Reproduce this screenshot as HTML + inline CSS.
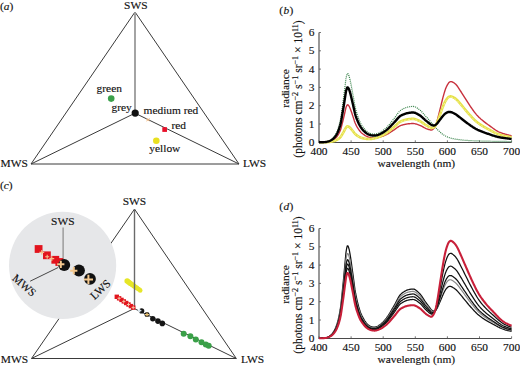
<!DOCTYPE html>
<html><head><meta charset="utf-8"><style>
html,body{margin:0;padding:0;background:#fff;}
body{width:520px;height:368px;overflow:hidden;}
svg{display:block;}
.t{font-family:"Liberation Serif", serif;font-size:11.4px;fill:#111;stroke:#111;stroke-width:0.15px;}
.sup{font-size:8.2px;}
.it{font-style:italic;}
</style></head><body>
<svg width="520" height="368" viewBox="0 0 520 368">

<text x="0" y="9.6" class="t">(<tspan class="it">a</tspan>)</text>
<path d="M135,12 L31,164.0 L239,164.0 Z" fill="none" stroke="#3a3a3a" stroke-width="1"/>
<line x1="135" y1="12" x2="135" y2="113.2" stroke="#9a9a9a" stroke-width="1.8"/>
<line x1="135" y1="113.2" x2="31" y2="164.0" stroke="#3a3a3a" stroke-width="1"/>
<line x1="135" y1="113.2" x2="239" y2="164.0" stroke="#3a3a3a" stroke-width="1"/>
<text x="135.8" y="9.3" text-anchor="middle" class="t">SWS</text>
<text x="0.5" y="167.4" class="t">MWS</text>
<text x="243" y="167.4" class="t">LWS</text>
<circle cx="111.2" cy="98.6" r="3.3" fill="#3aa04a"/>
<text x="96.6" y="92" class="t">green</text>
<text x="111.5" y="111.2" class="t">grey</text>
<circle cx="135.2" cy="113.1" r="3.6" fill="#111"/>
<text x="143.6" y="114.3" class="t">medium red</text>
<path d="M146.5,118.5 L149.5,121 M149.5,118.5 L146.5,121" stroke="#f0b070" stroke-width="1"/>
<rect x="162.3" y="127.2" width="4.7" height="4.7" fill="#e8102a"/>
<text x="171.4" y="129.2" class="t">red</text>
<circle cx="156.3" cy="140.8" r="3.3" fill="#e8e020"/>
<text x="149.3" y="152.3" class="t">yellow</text>
<text x="279.3" y="14.2" class="t" letter-spacing="0.4">(<tspan class="it">b</tspan>)</text>
<line x1="319.0" y1="32.5" x2="319.0" y2="142.5" stroke="#444" stroke-width="1.1"/>
<line x1="318.5" y1="142.5" x2="511.6" y2="142.5" stroke="#4a4a4a" stroke-width="1"/>
<line x1="319.0" y1="142.3" x2="321.0" y2="142.3" stroke="#555" stroke-width="0.8"/>
<text x="314.5" y="145.9" text-anchor="end" class="t">0</text>
<line x1="319.0" y1="124.00000000000001" x2="321.0" y2="124.00000000000001" stroke="#555" stroke-width="0.8"/>
<text x="314.5" y="127.60000000000001" text-anchor="end" class="t">1</text>
<line x1="319.0" y1="105.70000000000002" x2="321.0" y2="105.70000000000002" stroke="#555" stroke-width="0.8"/>
<text x="314.5" y="109.30000000000001" text-anchor="end" class="t">2</text>
<line x1="319.0" y1="87.4" x2="321.0" y2="87.4" stroke="#555" stroke-width="0.8"/>
<text x="314.5" y="91.0" text-anchor="end" class="t">3</text>
<line x1="319.0" y1="69.10000000000001" x2="321.0" y2="69.10000000000001" stroke="#555" stroke-width="0.8"/>
<text x="314.5" y="72.7" text-anchor="end" class="t">4</text>
<line x1="319.0" y1="50.80000000000001" x2="321.0" y2="50.80000000000001" stroke="#555" stroke-width="0.8"/>
<text x="314.5" y="54.40000000000001" text-anchor="end" class="t">5</text>
<line x1="319.0" y1="32.5" x2="321.0" y2="32.5" stroke="#555" stroke-width="0.8"/>
<text x="314.5" y="36.1" text-anchor="end" class="t">6</text>
<line x1="319.0" y1="142.3" x2="319.0" y2="140.3" stroke="#555" stroke-width="0.8"/>
<text x="319.0" y="154.60000000000002" text-anchor="middle" class="t">400</text>
<line x1="351.1" y1="142.3" x2="351.1" y2="140.3" stroke="#555" stroke-width="0.8"/>
<text x="351.1" y="154.60000000000002" text-anchor="middle" class="t">450</text>
<line x1="383.2" y1="142.3" x2="383.2" y2="140.3" stroke="#555" stroke-width="0.8"/>
<text x="383.2" y="154.60000000000002" text-anchor="middle" class="t">500</text>
<line x1="415.3" y1="142.3" x2="415.3" y2="140.3" stroke="#555" stroke-width="0.8"/>
<text x="415.3" y="154.60000000000002" text-anchor="middle" class="t">550</text>
<line x1="447.4" y1="142.3" x2="447.4" y2="140.3" stroke="#555" stroke-width="0.8"/>
<text x="447.4" y="154.60000000000002" text-anchor="middle" class="t">600</text>
<line x1="479.5" y1="142.3" x2="479.5" y2="140.3" stroke="#555" stroke-width="0.8"/>
<text x="479.5" y="154.60000000000002" text-anchor="middle" class="t">650</text>
<line x1="511.6" y1="142.3" x2="511.6" y2="140.3" stroke="#555" stroke-width="0.8"/>
<text x="511.6" y="154.60000000000002" text-anchor="middle" class="t">700</text>
<text x="416.3" y="166.9" text-anchor="middle" class="t">wavelength (nm)</text>
<text transform="translate(288.6,88.4) rotate(-90)" text-anchor="middle" class="t">radiance</text>
<text transform="translate(301.8,89.0) rotate(-90)" text-anchor="middle" class="t" style="font-size:11.5px">(photons cm<tspan class="sup" dy="-3.7">−2</tspan><tspan dy="3.7"> s</tspan><tspan class="sup" dy="-3.7">−1</tspan><tspan dy="3.7"> sr</tspan><tspan class="sup" dy="-3.7">−1</tspan><tspan dy="3.7"> × 10</tspan><tspan class="sup" dy="-3.7">11</tspan><tspan dy="3.7">)</tspan></text>
<path d="M319.00,142.28 L319.64,142.27 L320.28,142.26 L320.93,142.25 L321.57,142.24 L322.21,142.22 L322.85,142.19 L323.49,142.16 L324.14,142.12 L324.78,142.06 L325.42,141.98 L326.06,141.88 L326.70,141.74 L327.35,141.55 L327.99,141.32 L328.63,141.07 L329.27,140.78 L329.91,140.46 L330.56,140.08 L331.20,139.65 L331.84,139.15 L332.48,138.57 L333.12,137.93 L333.77,137.19 L334.41,136.35 L335.05,135.38 L335.69,134.29 L336.33,133.05 L336.98,131.66 L337.62,130.09 L338.26,128.25 L338.90,126.11 L339.54,123.69 L340.19,121.06 L340.83,117.80 L341.47,113.55 L342.11,108.79 L342.75,104.10 L343.40,99.31 L344.04,94.27 L344.68,89.05 L345.32,83.84 L345.96,78.61 L346.61,75.59 L347.25,73.68 L347.89,73.56 L348.53,74.69 L349.17,76.30 L349.82,78.80 L350.46,81.65 L351.10,84.84 L351.74,88.26 L352.38,91.76 L353.03,95.22 L353.67,98.86 L354.31,102.60 L354.95,106.00 L355.59,108.82 L356.24,111.24 L356.88,113.40 L357.52,115.39 L358.16,117.26 L358.80,119.04 L359.45,120.68 L360.09,122.16 L360.73,123.44 L361.37,124.57 L362.01,125.58 L362.66,126.52 L363.30,127.42 L363.94,128.28 L364.58,129.09 L365.22,129.83 L365.87,130.50 L366.51,131.10 L367.15,131.62 L367.79,132.07 L368.43,132.47 L369.08,132.81 L369.72,133.11 L370.36,133.38 L371.00,133.60 L371.64,133.77 L372.29,133.90 L372.93,133.99 L373.57,134.04 L374.21,134.06 L374.85,134.05 L375.50,133.99 L376.14,133.88 L376.78,133.71 L377.42,133.50 L378.06,133.26 L378.71,132.98 L379.35,132.68 L379.99,132.34 L380.63,131.98 L381.27,131.59 L381.92,131.18 L382.56,130.75 L383.20,130.29 L383.84,129.80 L384.48,129.29 L385.13,128.75 L385.77,128.18 L386.41,127.58 L387.05,126.95 L387.69,126.29 L388.34,125.59 L388.98,124.86 L389.62,124.11 L390.26,123.33 L390.90,122.54 L391.55,121.73 L392.19,120.91 L392.83,120.10 L393.47,119.29 L394.11,118.49 L394.76,117.65 L395.40,116.78 L396.04,115.88 L396.68,114.97 L397.32,114.07 L397.97,113.20 L398.61,112.37 L399.25,111.61 L399.89,110.95 L400.53,110.40 L401.18,109.98 L401.82,109.59 L402.46,109.21 L403.10,108.87 L403.74,108.54 L404.39,108.23 L405.03,107.95 L405.67,107.70 L406.31,107.47 L406.95,107.28 L407.60,107.11 L408.24,106.97 L408.88,106.86 L409.52,106.75 L410.16,106.65 L410.81,106.57 L411.45,106.50 L412.09,106.45 L412.73,106.42 L413.37,106.44 L414.02,106.54 L414.66,106.73 L415.30,107.00 L415.94,107.33 L416.58,107.70 L417.23,108.12 L417.87,108.55 L418.51,109.00 L419.15,109.45 L419.79,109.91 L420.44,110.44 L421.08,111.05 L421.72,111.71 L422.36,112.42 L423.00,113.16 L423.65,113.92 L424.29,114.67 L424.93,115.41 L425.57,116.13 L426.21,116.83 L426.86,117.53 L427.50,118.23 L428.14,118.94 L428.78,119.66 L429.42,120.39 L430.07,121.13 L430.71,121.87 L431.35,122.65 L431.99,123.44 L432.63,124.24 L433.28,125.02 L433.92,125.78 L434.56,126.51 L435.20,127.22 L435.84,127.91 L436.49,128.58 L437.13,129.24 L437.77,129.88 L438.41,130.50 L439.05,131.10 L439.70,131.70 L440.34,132.28 L440.98,132.85 L441.62,133.39 L442.26,133.91 L442.91,134.39 L443.55,134.84 L444.19,135.26 L444.83,135.64 L445.47,135.98 L446.12,136.30 L446.76,136.61 L447.40,136.90 L448.04,137.17 L448.68,137.42 L449.33,137.65 L449.97,137.86 L450.61,138.06 L451.25,138.24 L451.89,138.40 L452.54,138.55 L453.18,138.69 L453.82,138.83 L454.46,138.95 L455.10,139.07 L455.75,139.18 L456.39,139.28 L457.03,139.38 L457.67,139.47 L458.31,139.56 L458.96,139.64 L459.60,139.72 L460.24,139.80 L460.88,139.87 L461.52,139.94 L462.17,140.01 L462.81,140.08 L463.45,140.14 L464.09,140.20 L464.73,140.26 L465.38,140.31 L466.02,140.36 L466.66,140.41 L467.30,140.46 L467.94,140.50 L468.59,140.54 L469.23,140.58 L469.87,140.62 L470.51,140.65 L471.15,140.68 L471.80,140.71 L472.44,140.74 L473.08,140.76 L473.72,140.79 L474.36,140.81 L475.01,140.84 L475.65,140.86 L476.29,140.88 L476.93,140.90 L477.57,140.92 L478.22,140.94 L478.86,140.96 L479.50,140.98 L480.14,140.99 L480.78,141.01 L481.43,141.03 L482.07,141.04 L482.71,141.06 L483.35,141.07 L483.99,141.09 L484.64,141.10 L485.28,141.12 L485.92,141.13 L486.56,141.14 L487.20,141.16 L487.85,141.17 L488.49,141.18 L489.13,141.20 L489.77,141.21 L490.41,141.22 L491.06,141.23 L491.70,141.24 L492.34,141.26 L492.98,141.28 L493.62,141.29 L494.27,141.30 L494.91,141.31 L495.55,141.32 L496.19,141.33 L496.83,141.34 L497.48,141.35 L498.12,141.36 L498.76,141.37 L499.40,141.38 L500.04,141.39 L500.69,141.40 L501.33,141.41 L501.97,141.42 L502.61,141.42 L503.25,141.43 L503.90,141.44 L504.54,141.45 L505.18,141.45 L505.82,141.46 L506.46,141.47 L507.11,141.48 L507.75,141.48 L508.39,141.49 L509.03,141.49 L509.67,141.50 L510.32,141.51 L510.96,141.51 L511.60,141.52" fill="none" stroke="#2f7d42" stroke-width="1.2" stroke-linejoin="round" stroke-dasharray="1 1"/>
<path d="M319.00,142.29 L319.64,142.28 L320.28,142.28 L320.93,142.27 L321.57,142.27 L322.21,142.25 L322.85,142.24 L323.49,142.22 L324.14,142.20 L324.78,142.17 L325.42,142.13 L326.06,142.07 L326.70,141.99 L327.35,141.89 L327.99,141.77 L328.63,141.63 L329.27,141.47 L329.91,141.30 L330.56,141.09 L331.20,140.86 L331.84,140.58 L332.48,140.27 L333.12,139.92 L333.77,139.52 L334.41,139.05 L335.05,138.53 L335.69,137.93 L336.33,137.26 L336.98,136.50 L337.62,135.64 L338.26,134.64 L338.90,133.47 L339.54,132.16 L340.19,130.72 L340.83,128.94 L341.47,126.63 L342.11,124.03 L342.75,121.48 L343.40,118.86 L344.04,116.12 L344.68,113.27 L345.32,110.43 L345.96,107.58 L346.61,105.93 L347.25,104.89 L347.89,104.82 L348.53,105.44 L349.17,106.32 L349.82,107.68 L350.46,109.24 L351.10,110.97 L351.74,112.84 L352.38,114.75 L353.03,116.64 L353.67,118.62 L354.31,120.66 L354.95,122.52 L355.59,124.06 L356.24,125.38 L356.88,126.56 L357.52,127.64 L358.16,128.66 L358.80,129.63 L359.45,130.53 L360.09,131.34 L360.73,132.04 L361.37,132.66 L362.01,133.21 L362.66,133.72 L363.30,134.22 L363.94,134.69 L364.58,135.13 L365.22,135.54 L365.87,135.91 L366.51,136.23 L367.15,136.52 L367.79,136.77 L368.43,136.99 L369.08,137.18 L369.72,137.35 L370.36,137.50 L371.00,137.63 L371.64,137.73 L372.29,137.80 L372.93,137.86 L373.57,137.89 L374.21,137.91 L374.85,137.91 L375.50,137.89 L376.14,137.83 L376.78,137.75 L377.42,137.64 L378.06,137.52 L378.71,137.38 L379.35,137.22 L379.99,137.05 L380.63,136.86 L381.27,136.66 L381.92,136.45 L382.56,136.23 L383.20,135.99 L383.84,135.73 L384.48,135.47 L385.13,135.19 L385.77,134.89 L386.41,134.58 L387.05,134.25 L387.69,133.90 L388.34,133.54 L388.98,133.16 L389.62,132.77 L390.26,132.36 L390.90,131.95 L391.55,131.52 L392.19,131.10 L392.83,130.67 L393.47,130.25 L394.11,129.83 L394.76,129.40 L395.40,128.94 L396.04,128.47 L396.68,128.00 L397.32,127.53 L397.97,127.07 L398.61,126.64 L399.25,126.24 L399.89,125.89 L400.53,125.61 L401.18,125.38 L401.82,125.18 L402.46,124.99 L403.10,124.80 L403.74,124.63 L404.39,124.47 L405.03,124.33 L405.67,124.20 L406.31,124.08 L406.95,123.97 L407.60,123.89 L408.24,123.81 L408.88,123.76 L409.52,123.70 L410.16,123.65 L410.81,123.60 L411.45,123.57 L412.09,123.54 L412.73,123.53 L413.37,123.54 L414.02,123.59 L414.66,123.68 L415.30,123.82 L415.94,123.98 L416.58,124.18 L417.23,124.39 L417.87,124.61 L418.51,124.84 L419.15,125.07 L419.79,125.30 L420.44,125.57 L421.08,125.87 L421.72,126.20 L422.36,126.55 L423.00,126.92 L423.65,127.28 L424.29,127.63 L424.93,127.96 L425.57,128.27 L426.21,128.55 L426.86,128.81 L427.50,129.06 L428.14,129.28 L428.78,129.48 L429.42,129.66 L430.07,129.83 L430.71,129.96 L431.35,130.01 L431.99,129.89 L432.63,129.53 L433.28,128.97 L433.92,128.27 L434.56,127.34 L435.20,126.17 L435.84,124.72 L436.49,122.94 L437.13,120.83 L437.77,118.50 L438.41,116.03 L439.05,113.38 L439.70,110.70 L440.34,108.04 L440.98,105.39 L441.62,102.79 L442.26,100.22 L442.91,97.69 L443.55,95.31 L444.19,93.09 L444.83,90.98 L445.47,89.11 L446.12,87.50 L446.76,86.06 L447.40,84.84 L448.04,83.78 L448.68,82.85 L449.33,82.23 L449.97,81.91 L450.61,81.67 L451.25,81.62 L451.89,81.76 L452.54,82.04 L453.18,82.39 L453.82,82.77 L454.46,83.20 L455.10,83.73 L455.75,84.35 L456.39,85.02 L457.03,85.77 L457.67,86.63 L458.31,87.57 L458.96,88.55 L459.60,89.55 L460.24,90.54 L460.88,91.51 L461.52,92.51 L462.17,93.52 L462.81,94.55 L463.45,95.57 L464.09,96.60 L464.73,97.62 L465.38,98.64 L466.02,99.66 L466.66,100.68 L467.30,101.69 L467.94,102.69 L468.59,103.68 L469.23,104.65 L469.87,105.61 L470.51,106.55 L471.15,107.49 L471.80,108.43 L472.44,109.36 L473.08,110.27 L473.72,111.16 L474.36,112.02 L475.01,112.85 L475.65,113.65 L476.29,114.42 L476.93,115.15 L477.57,115.84 L478.22,116.50 L478.86,117.13 L479.50,117.75 L480.14,118.34 L480.78,118.92 L481.43,119.48 L482.07,120.03 L482.71,120.58 L483.35,121.11 L483.99,121.63 L484.64,122.14 L485.28,122.63 L485.92,123.11 L486.56,123.57 L487.20,124.04 L487.85,124.50 L488.49,124.95 L489.13,125.41 L489.77,125.87 L490.41,126.34 L491.06,126.81 L491.70,127.29 L492.34,127.77 L492.98,128.25 L493.62,128.71 L494.27,129.16 L494.91,129.60 L495.55,130.03 L496.19,130.43 L496.83,130.81 L497.48,131.18 L498.12,131.52 L498.76,131.84 L499.40,132.13 L500.04,132.40 L500.69,132.66 L501.33,132.90 L501.97,133.13 L502.61,133.35 L503.25,133.56 L503.90,133.76 L504.54,133.96 L505.18,134.15 L505.82,134.33 L506.46,134.51 L507.11,134.68 L507.75,134.85 L508.39,135.02 L509.03,135.19 L509.67,135.35 L510.32,135.52 L510.96,135.68 L511.60,135.84" fill="none" stroke="#c8323e" stroke-width="1.4" stroke-linejoin="round"/>
<path d="M319.00,142.29 L319.64,142.29 L320.28,142.29 L320.93,142.29 L321.57,142.29 L322.21,142.28 L322.85,142.27 L323.49,142.27 L324.14,142.26 L324.78,142.24 L325.42,142.23 L326.06,142.20 L326.70,142.17 L327.35,142.13 L327.99,142.07 L328.63,142.02 L329.27,141.95 L329.91,141.87 L330.56,141.79 L331.20,141.69 L331.84,141.57 L332.48,141.43 L333.12,141.29 L333.77,141.11 L334.41,140.92 L335.05,140.69 L335.69,140.44 L336.33,140.15 L336.98,139.83 L337.62,139.47 L338.26,139.04 L338.90,138.54 L339.54,137.98 L340.19,137.37 L340.83,136.62 L341.47,135.63 L342.11,134.53 L342.75,133.44 L343.40,132.33 L344.04,131.16 L344.68,129.95 L345.32,128.74 L345.96,127.53 L346.61,126.82 L347.25,126.38 L347.89,126.34 L348.53,126.60 L349.17,126.97 L349.82,127.54 L350.46,128.19 L351.10,128.92 L351.74,129.70 L352.38,130.50 L353.03,131.29 L353.67,132.11 L354.31,132.96 L354.95,133.73 L355.59,134.37 L356.24,134.91 L356.88,135.39 L357.52,135.82 L358.16,136.23 L358.80,136.61 L359.45,136.96 L360.09,137.27 L360.73,137.54 L361.37,137.76 L362.01,137.96 L362.66,138.13 L363.30,138.30 L363.94,138.45 L364.58,138.59 L365.22,138.71 L365.87,138.81 L366.51,138.89 L367.15,138.95 L367.79,138.99 L368.43,139.01 L369.08,139.02 L369.72,139.01 L370.36,138.98 L371.00,138.93 L371.64,138.86 L372.29,138.78 L372.93,138.67 L373.57,138.55 L374.21,138.42 L374.85,138.27 L375.50,138.11 L376.14,137.93 L376.78,137.73 L377.42,137.52 L378.06,137.29 L378.71,137.05 L379.35,136.80 L379.99,136.53 L380.63,136.25 L381.27,135.95 L381.92,135.64 L382.56,135.32 L383.20,134.98 L383.84,134.63 L384.48,134.26 L385.13,133.88 L385.77,133.48 L386.41,133.07 L387.05,132.63 L387.69,132.17 L388.34,131.69 L388.98,131.20 L389.62,130.68 L390.26,130.16 L390.90,129.62 L391.55,129.08 L392.19,128.53 L392.83,127.98 L393.47,127.44 L394.11,126.91 L394.76,126.35 L395.40,125.76 L396.04,125.17 L396.68,124.56 L397.32,123.96 L397.97,123.38 L398.61,122.83 L399.25,122.33 L399.89,121.88 L400.53,121.52 L401.18,121.23 L401.82,120.97 L402.46,120.72 L403.10,120.49 L403.74,120.27 L404.39,120.06 L405.03,119.88 L405.67,119.71 L406.31,119.55 L406.95,119.42 L407.60,119.31 L408.24,119.21 L408.88,119.14 L409.52,119.06 L410.16,119.00 L410.81,118.94 L411.45,118.89 L412.09,118.85 L412.73,118.83 L413.37,118.84 L414.02,118.91 L414.66,119.02 L415.30,119.19 L415.94,119.40 L416.58,119.65 L417.23,119.91 L417.87,120.19 L418.51,120.48 L419.15,120.77 L419.79,121.06 L420.44,121.40 L421.08,121.78 L421.72,122.21 L422.36,122.66 L423.00,123.12 L423.65,123.59 L424.29,124.04 L424.93,124.49 L425.57,124.91 L426.21,125.30 L426.86,125.68 L427.50,126.04 L428.14,126.39 L428.78,126.73 L429.42,127.05 L430.07,127.37 L430.71,127.65 L431.35,127.87 L431.99,127.94 L432.63,127.83 L433.28,127.61 L433.92,127.25 L434.56,126.71 L435.20,125.98 L435.84,125.04 L436.49,123.83 L437.13,122.39 L437.77,120.82 L438.41,119.12 L439.05,117.31 L439.70,115.50 L440.34,113.70 L440.98,111.91 L441.62,110.15 L442.26,108.40 L442.91,106.70 L443.55,105.11 L444.19,103.60 L444.83,102.20 L445.47,100.98 L446.12,99.92 L446.76,98.99 L447.40,98.22 L448.04,97.53 L448.68,96.96 L449.33,96.67 L449.97,96.50 L450.61,96.41 L451.25,96.47 L451.89,96.66 L452.54,96.92 L453.18,97.23 L453.82,97.55 L454.46,97.92 L455.10,98.37 L455.75,98.87 L456.39,99.41 L457.03,100.01 L457.67,100.69 L458.31,101.42 L458.96,102.17 L459.60,102.93 L460.24,103.67 L460.88,104.42 L461.52,105.17 L462.17,105.94 L462.81,106.72 L463.45,107.49 L464.09,108.26 L464.73,109.03 L465.38,109.80 L466.02,110.57 L466.66,111.33 L467.30,112.09 L467.94,112.83 L468.59,113.57 L469.23,114.29 L469.87,115.00 L470.51,115.71 L471.15,116.41 L471.80,117.11 L472.44,117.79 L473.08,118.47 L473.72,119.12 L474.36,119.76 L475.01,120.37 L475.65,120.96 L476.29,121.53 L476.93,122.06 L477.57,122.57 L478.22,123.05 L478.86,123.52 L479.50,123.97 L480.14,124.41 L480.78,124.84 L481.43,125.26 L482.07,125.67 L482.71,126.07 L483.35,126.46 L483.99,126.85 L484.64,127.22 L485.28,127.58 L485.92,127.94 L486.56,128.29 L487.20,128.63 L487.85,128.97 L488.49,129.31 L489.13,129.65 L489.77,130.00 L490.41,130.35 L491.06,130.70 L491.70,131.06 L492.34,131.41 L492.98,131.76 L493.62,132.11 L494.27,132.44 L494.91,132.76 L495.55,133.07 L496.19,133.37 L496.83,133.65 L497.48,133.92 L498.12,134.17 L498.76,134.40 L499.40,134.61 L500.04,134.81 L500.69,135.00 L501.33,135.18 L501.97,135.35 L502.61,135.51 L503.25,135.67 L503.90,135.82 L504.54,135.96 L505.18,136.10 L505.82,136.23 L506.46,136.37 L507.11,136.50 L507.75,136.62 L508.39,136.75 L509.03,136.87 L509.67,136.99 L510.32,137.12 L510.96,137.24 L511.60,137.36" fill="none" stroke="#e6e24a" stroke-width="2.6" stroke-linejoin="round"/>
<path d="M319.00,142.29 L319.64,142.29 L320.28,142.29 L320.93,142.29 L321.57,142.29 L322.21,142.28 L322.85,142.28 L323.49,142.27 L324.14,142.26 L324.78,142.24 L325.42,142.23 L326.06,142.20 L326.70,142.17 L327.35,142.13 L327.99,142.08 L328.63,142.02 L329.27,141.95 L329.91,141.88 L330.56,141.79 L331.20,141.69 L331.84,141.58 L332.48,141.44 L333.12,141.29 L333.77,141.12 L334.41,140.93 L335.05,140.70 L335.69,140.45 L336.33,140.16 L336.98,139.85 L337.62,139.48 L338.26,139.06 L338.90,138.57 L339.54,138.01 L340.19,137.40 L340.83,136.65 L341.47,135.67 L342.11,134.57 L342.75,133.49 L343.40,132.39 L344.04,131.22 L344.68,130.02 L345.32,128.82 L345.96,127.61 L346.61,126.91 L347.25,126.47 L347.89,126.44 L348.53,126.69 L349.17,127.05 L349.82,127.62 L350.46,128.27 L351.10,128.99 L351.74,129.77 L352.38,130.57 L353.03,131.35 L353.67,132.17 L354.31,133.02 L354.95,133.79 L355.59,134.42 L356.24,134.95 L356.88,135.43 L357.52,135.86 L358.16,136.27 L358.80,136.65 L359.45,137.00 L360.09,137.31 L360.73,137.57 L361.37,137.79 L362.01,137.99 L362.66,138.17 L363.30,138.33 L363.94,138.48 L364.58,138.62 L365.22,138.74 L365.87,138.84 L366.51,138.93 L367.15,138.99 L367.79,139.03 L368.43,139.05 L369.08,139.05 L369.72,139.04 L370.36,139.02 L371.00,138.97 L371.64,138.91 L372.29,138.82 L372.93,138.72 L373.57,138.60 L374.21,138.47 L374.85,138.33 L375.50,138.17 L376.14,137.99 L376.78,137.80 L377.42,137.59 L378.06,137.36 L378.71,137.13 L379.35,136.88 L379.99,136.61 L380.63,136.34 L381.27,136.05 L381.92,135.74 L382.56,135.42 L383.20,135.09 L383.84,134.75 L384.48,134.39 L385.13,134.01 L385.77,133.62 L386.41,133.21 L387.05,132.78 L387.69,132.33 L388.34,131.86 L388.98,131.37 L389.62,130.86 L390.26,130.35 L390.90,129.82 L391.55,129.28 L392.19,128.74 L392.83,128.21 L393.47,127.67 L394.11,127.15 L394.76,126.60 L395.40,126.02 L396.04,125.43 L396.68,124.84 L397.32,124.25 L397.97,123.68 L398.61,123.14 L399.25,122.64 L399.89,122.20 L400.53,121.84 L401.18,121.56 L401.82,121.30 L402.46,121.06 L403.10,120.83 L403.74,120.61 L404.39,120.41 L405.03,120.23 L405.67,120.06 L406.31,119.91 L406.95,119.78 L407.60,119.66 L408.24,119.57 L408.88,119.50 L409.52,119.43 L410.16,119.36 L410.81,119.30 L411.45,119.25 L412.09,119.22 L412.73,119.20 L413.37,119.21 L414.02,119.27 L414.66,119.38 L415.30,119.55 L415.94,119.76 L416.58,120.00 L417.23,120.26 L417.87,120.54 L418.51,120.82 L419.15,121.10 L419.79,121.39 L420.44,121.72 L421.08,122.10 L421.72,122.52 L422.36,122.96 L423.00,123.42 L423.65,123.88 L424.29,124.33 L424.93,124.76 L425.57,125.18 L426.21,125.56 L426.86,125.93 L427.50,126.29 L428.14,126.64 L428.78,126.97 L429.42,127.29 L430.07,127.60 L430.71,127.87 L431.35,128.09 L431.99,128.16 L432.63,128.05 L433.28,127.83 L433.92,127.47 L434.56,126.94 L435.20,126.22 L435.84,125.28 L436.49,124.09 L437.13,122.67 L437.77,121.12 L438.41,119.44 L439.05,117.65 L439.70,115.86 L440.34,114.09 L440.98,112.32 L441.62,110.58 L442.26,108.85 L442.91,107.17 L443.55,105.60 L444.19,104.11 L444.83,102.72 L445.47,101.52 L446.12,100.47 L446.76,99.55 L447.40,98.79 L448.04,98.11 L448.68,97.55 L449.33,97.25 L449.97,97.09 L450.61,97.00 L451.25,97.06 L451.89,97.25 L452.54,97.51 L453.18,97.81 L453.82,98.12 L454.46,98.49 L455.10,98.94 L455.75,99.43 L456.39,99.96 L457.03,100.55 L457.67,101.22 L458.31,101.94 L458.96,102.69 L459.60,103.44 L460.24,104.17 L460.88,104.90 L461.52,105.65 L462.17,106.41 L462.81,107.17 L463.45,107.94 L464.09,108.70 L464.73,109.46 L465.38,110.22 L466.02,110.97 L466.66,111.73 L467.30,112.47 L467.94,113.21 L468.59,113.94 L469.23,114.65 L469.87,115.35 L470.51,116.05 L471.15,116.74 L471.80,117.43 L472.44,118.11 L473.08,118.77 L473.72,119.42 L474.36,120.05 L475.01,120.66 L475.65,121.24 L476.29,121.79 L476.93,122.32 L477.57,122.82 L478.22,123.30 L478.86,123.76 L479.50,124.21 L480.14,124.64 L480.78,125.06 L481.43,125.48 L482.07,125.88 L482.71,126.28 L483.35,126.67 L483.99,127.05 L484.64,127.42 L485.28,127.77 L485.92,128.12 L486.56,128.47 L487.20,128.81 L487.85,129.14 L488.49,129.48 L489.13,129.82 L489.77,130.15 L490.41,130.50 L491.06,130.85 L491.70,131.20 L492.34,131.55 L492.98,131.90 L493.62,132.24 L494.27,132.57 L494.91,132.89 L495.55,133.19 L496.19,133.49 L496.83,133.76 L497.48,134.03 L498.12,134.27 L498.76,134.50 L499.40,134.71 L500.04,134.91 L500.69,135.09 L501.33,135.27 L501.97,135.44 L502.61,135.60 L503.25,135.75 L503.90,135.90 L504.54,136.04 L505.18,136.18 L505.82,136.31 L506.46,136.44 L507.11,136.57 L507.75,136.70 L508.39,136.82 L509.03,136.94 L509.67,137.06 L510.32,137.18 L510.96,137.31 L511.60,137.43" fill="none" stroke="#f6f2b0" stroke-width="0.9" stroke-linejoin="round" stroke-dasharray="2 1.8"/>
<path d="M319.00,142.28 L319.64,142.28 L320.28,142.27 L320.93,142.26 L321.57,142.25 L322.21,142.23 L322.85,142.21 L323.49,142.19 L324.14,142.15 L324.78,142.11 L325.42,142.05 L326.06,141.96 L326.70,141.85 L327.35,141.70 L327.99,141.52 L328.63,141.32 L329.27,141.09 L329.91,140.83 L330.56,140.53 L331.20,140.19 L331.84,139.79 L332.48,139.33 L333.12,138.81 L333.77,138.23 L334.41,137.55 L335.05,136.78 L335.69,135.90 L336.33,134.92 L336.98,133.81 L337.62,132.55 L338.26,131.09 L338.90,129.38 L339.54,127.45 L340.19,125.35 L340.83,122.75 L341.47,119.36 L342.11,115.56 L342.75,111.82 L343.40,107.99 L344.04,103.98 L344.68,99.81 L345.32,95.65 L345.96,91.48 L346.61,89.07 L347.25,87.55 L347.89,87.45 L348.53,88.35 L349.17,89.64 L349.82,91.63 L350.46,93.90 L351.10,96.44 L351.74,99.17 L352.38,101.97 L353.03,104.73 L353.67,107.63 L354.31,110.61 L354.95,113.33 L355.59,115.57 L356.24,117.50 L356.88,119.23 L357.52,120.81 L358.16,122.30 L358.80,123.72 L359.45,125.02 L360.09,126.20 L360.73,127.22 L361.37,128.12 L362.01,128.92 L362.66,129.67 L363.30,130.39 L363.94,131.07 L364.58,131.71 L365.22,132.29 L365.87,132.83 L366.51,133.30 L367.15,133.71 L367.79,134.07 L368.43,134.38 L369.08,134.64 L369.72,134.88 L370.36,135.09 L371.00,135.25 L371.64,135.38 L372.29,135.48 L372.93,135.54 L373.57,135.57 L374.21,135.57 L374.85,135.55 L375.50,135.49 L376.14,135.39 L376.78,135.24 L377.42,135.07 L378.06,134.86 L378.71,134.62 L379.35,134.37 L379.99,134.09 L380.63,133.78 L381.27,133.46 L381.92,133.11 L382.56,132.75 L383.20,132.36 L383.84,131.96 L384.48,131.53 L385.13,131.08 L385.77,130.61 L386.41,130.11 L387.05,129.58 L387.69,129.02 L388.34,128.44 L388.98,127.84 L389.62,127.21 L390.26,126.56 L390.90,125.90 L391.55,125.23 L392.19,124.55 L392.83,123.88 L393.47,123.21 L394.11,122.54 L394.76,121.84 L395.40,121.12 L396.04,120.37 L396.68,119.61 L397.32,118.87 L397.97,118.14 L398.61,117.45 L399.25,116.82 L399.89,116.27 L400.53,115.81 L401.18,115.46 L401.82,115.13 L402.46,114.82 L403.10,114.53 L403.74,114.26 L404.39,114.01 L405.03,113.78 L405.67,113.56 L406.31,113.38 L406.95,113.21 L407.60,113.07 L408.24,112.96 L408.88,112.86 L409.52,112.78 L410.16,112.69 L410.81,112.62 L411.45,112.56 L412.09,112.52 L412.73,112.50 L413.37,112.51 L414.02,112.59 L414.66,112.75 L415.30,112.97 L415.94,113.24 L416.58,113.55 L417.23,113.89 L417.87,114.25 L418.51,114.62 L419.15,114.99 L419.79,115.36 L420.44,115.80 L421.08,116.30 L421.72,116.84 L422.36,117.42 L423.00,118.02 L423.65,118.62 L424.29,119.22 L424.93,119.81 L425.57,120.37 L426.21,120.90 L426.86,121.42 L427.50,121.94 L428.14,122.45 L428.78,122.95 L429.42,123.46 L430.07,123.94 L430.71,124.40 L431.35,124.79 L431.99,125.08 L432.63,125.29 L433.28,125.43 L433.92,125.46 L434.56,125.35 L435.20,125.10 L435.84,124.69 L436.49,124.11 L437.13,123.44 L437.77,122.68 L438.41,121.84 L439.05,120.98 L439.70,120.12 L440.34,119.27 L440.98,118.42 L441.62,117.58 L442.26,116.74 L442.91,115.96 L443.55,115.23 L444.19,114.53 L444.83,113.92 L445.47,113.40 L446.12,112.95 L446.76,112.59 L447.40,112.29 L448.04,112.04 L448.68,111.93 L449.33,111.93 L449.97,111.96 L450.61,112.06 L451.25,112.25 L451.89,112.48 L452.54,112.73 L453.18,112.99 L453.82,113.27 L454.46,113.59 L455.10,113.95 L455.75,114.33 L456.39,114.73 L457.03,115.19 L457.67,115.68 L458.31,116.18 L458.96,116.69 L459.60,117.18 L460.24,117.67 L460.88,118.18 L461.52,118.68 L462.17,119.19 L462.81,119.70 L463.45,120.20 L464.09,120.70 L464.73,121.21 L465.38,121.71 L466.02,122.20 L466.66,122.69 L467.30,123.18 L467.94,123.65 L468.59,124.12 L469.23,124.58 L469.87,125.03 L470.51,125.48 L471.15,125.93 L471.80,126.36 L472.44,126.80 L473.08,127.22 L473.72,127.62 L474.36,128.02 L475.01,128.39 L475.65,128.76 L476.29,129.10 L476.93,129.42 L477.57,129.74 L478.22,130.04 L478.86,130.33 L479.50,130.61 L480.14,130.88 L480.78,131.15 L481.43,131.41 L482.07,131.67 L482.71,131.92 L483.35,132.17 L483.99,132.40 L484.64,132.64 L485.28,132.86 L485.92,133.08 L486.56,133.30 L487.20,133.52 L487.85,133.74 L488.49,133.95 L489.13,134.17 L489.77,134.39 L490.41,134.61 L491.06,134.84 L491.70,135.06 L492.34,135.29 L492.98,135.52 L493.62,135.73 L494.27,135.93 L494.91,136.13 L495.55,136.32 L496.19,136.50 L496.83,136.67 L497.48,136.83 L498.12,136.98 L498.76,137.12 L499.40,137.25 L500.04,137.37 L500.69,137.49 L501.33,137.60 L501.97,137.70 L502.61,137.80 L503.25,137.90 L503.90,137.99 L504.54,138.08 L505.18,138.17 L505.82,138.25 L506.46,138.34 L507.11,138.42 L507.75,138.50 L508.39,138.58 L509.03,138.66 L509.67,138.74 L510.32,138.82 L510.96,138.89 L511.60,138.97" fill="none" stroke="#000000" stroke-width="2.4" stroke-linejoin="round"/>
<text x="0" y="189.2" class="t">(<tspan class="it">c</tspan>)</text>
<path d="M134.5,209.1 L31.5,358.5 L236.3,358.5 Z" fill="none" stroke="#3a3a3a" stroke-width="1"/>
<line x1="134.2" y1="308.5" x2="31.5" y2="358.5" stroke="#3a3a3a" stroke-width="1"/>
<line x1="134.2" y1="308.5" x2="236.3" y2="358.5" stroke="#3a3a3a" stroke-width="1"/>
<text x="134.4" y="205.1" text-anchor="middle" class="t">SWS</text>
<text x="0.8" y="363.4" class="t">MWS</text>
<text x="241" y="363.4" class="t">LWS</text>
<circle cx="127.2" cy="281.0" r="2.80" fill="#e6e628"/>
<circle cx="128.8" cy="282.2" r="2.74" fill="#e6e628"/>
<circle cx="130.4" cy="283.4" r="2.67" fill="#e6e628"/>
<circle cx="132.1" cy="284.5" r="2.61" fill="#e6e628"/>
<circle cx="133.7" cy="285.7" r="2.55" fill="#e6e628"/>
<circle cx="135.3" cy="286.9" r="2.49" fill="#e6e628"/>
<circle cx="136.9" cy="288.0" r="2.42" fill="#e6e628"/>
<circle cx="138.6" cy="289.2" r="2.36" fill="#e6e628"/>
<circle cx="140.2" cy="290.4" r="2.30" fill="#e6e628"/>
<line x1="134.5" y1="209.1" x2="134.5" y2="308.5" stroke="#6a6a6a" stroke-width="1.4"/>
<rect x="114.6" y="294.6" width="4.4" height="4.4" fill="#e2161e"/>
<rect x="116.9" y="296.1" width="4.4" height="4.4" fill="#e2161e"/>
<rect x="119.3" y="297.7" width="4.4" height="4.4" fill="#e2161e"/>
<rect x="121.6" y="299.2" width="4.4" height="4.4" fill="#e2161e"/>
<rect x="124.0" y="300.8" width="4.4" height="4.4" fill="#e2161e"/>
<rect x="126.3" y="302.3" width="4.4" height="4.4" fill="#e2161e"/>
<rect x="128.7" y="303.9" width="4.4" height="4.4" fill="#e2161e"/>
<rect x="131.0" y="305.4" width="4.4" height="4.4" fill="#e2161e"/>
<path d="M117.5,298.3 h3.2 M119.1,296.7 v3.2" stroke="#f7c8a8" stroke-width="0.9"/>
<path d="M122.2,301.4 h3.2 M123.8,299.8 v3.2" stroke="#f7c8a8" stroke-width="0.9"/>
<path d="M126.9,304.5 h3.2 M128.5,302.9 v3.2" stroke="#f7c8a8" stroke-width="0.9"/>
<path d="M131.6,307.6 h3.2 M133.2,306.0 v3.2" stroke="#f7c8a8" stroke-width="0.9"/>
<circle cx="141.6" cy="310.9" r="2.7" fill="#151515"/>
<circle cx="147.0" cy="314.6" r="2.5" fill="#151515"/>
<circle cx="152.8" cy="318.7" r="2.7" fill="#151515"/>
<circle cx="157.9" cy="321.1" r="2.8" fill="#151515"/>
<circle cx="162.3" cy="323.4" r="2.8" fill="#151515"/>
<path d="M137.8,310.6 h3.6 M139.6,308.8 v3.6" stroke="#d8e4ec" stroke-width="1.3"/>
<path d="M145,314.6 h4 M147,312.6 v4" stroke="#f0c878" stroke-width="1.2"/>
<circle cx="183.7" cy="333.7" r="3.0" fill="#3aa048"/>
<circle cx="190.4" cy="336.2" r="3.0" fill="#3aa048"/>
<circle cx="195.8" cy="339.4" r="3.0" fill="#3aa048"/>
<circle cx="201.5" cy="342.3" r="3.0" fill="#3aa048"/>
<circle cx="205.8" cy="344.6" r="3.0" fill="#3aa048"/>
<circle cx="208.7" cy="345.8" r="3.0" fill="#3aa048"/>
<circle cx="62.6" cy="265.4" r="53.6" fill="#e6e7e9"/>
<line x1="63.1" y1="227.5" x2="63.1" y2="262" stroke="#8a8a8a" stroke-width="1.2"/>
<line x1="30.2" y1="281.2" x2="58" y2="267.6" stroke="#333" stroke-width="0.9"/>
<text x="62.8" y="224.6" text-anchor="middle" class="t">SWS</text>
<text transform="translate(11.6,279.3) rotate(41)" class="t">MWS</text>
<text transform="translate(94.5,300.2) rotate(-43)" class="t">LWS</text>
<rect x="34.7" y="245.1" width="7.8" height="7.8" fill="#e2141e"/>
<rect x="43.0" y="251.4" width="7.8" height="7.8" fill="#e2141e"/>
<rect x="51.4" y="255.9" width="7.8" height="7.8" fill="#e2141e"/>
<rect x="55.4" y="258.1" width="7.8" height="7.8" fill="#e2141e"/>
<path d="M39.4,252.4 h4.8 M41.8,250.0 v4.8" stroke="#f6c08a" stroke-width="1.1"/>
<path d="M45.2,256.8 h4.0 M47.2,254.8 v4.0" stroke="#f6c08a" stroke-width="1.1"/>
<path d="M49.4,258.6 h4.8 M51.8,256.20000000000005 v4.8" stroke="#f6c08a" stroke-width="1.1"/>
<circle cx="64.2" cy="265.1" r="6.0" fill="#111"/>
<circle cx="78.9" cy="270.4" r="6.0" fill="#111"/>
<circle cx="90.0" cy="278.9" r="5.9" fill="#111"/>
<path d="M57.199999999999996,264.3 h7.2 M60.8,260.7 v7.2" stroke="#f4c88e" stroke-width="2.0"/>
<path d="M70.2,270.7 h7.2 M73.8,267.09999999999997 v7.2" stroke="#f4c88e" stroke-width="2.0"/>
<path d="M83.80000000000001,279.4 h9.2 M88.4,274.79999999999995 v9.2" stroke="#f4c88e" stroke-width="2.0"/>
<text x="279.3" y="210.0" class="t" letter-spacing="0.4">(<tspan class="it">d</tspan>)</text>
<line x1="319.0" y1="228.5" x2="319.0" y2="338.5" stroke="#444" stroke-width="1.1"/>
<line x1="318.5" y1="338.5" x2="511.6" y2="338.5" stroke="#4a4a4a" stroke-width="1"/>
<line x1="319.0" y1="338.3" x2="321.0" y2="338.3" stroke="#555" stroke-width="0.8"/>
<text x="314.5" y="341.90000000000003" text-anchor="end" class="t">0</text>
<line x1="319.0" y1="320.0" x2="321.0" y2="320.0" stroke="#555" stroke-width="0.8"/>
<text x="314.5" y="323.6" text-anchor="end" class="t">1</text>
<line x1="319.0" y1="301.7" x2="321.0" y2="301.7" stroke="#555" stroke-width="0.8"/>
<text x="314.5" y="305.3" text-anchor="end" class="t">2</text>
<line x1="319.0" y1="283.4" x2="321.0" y2="283.4" stroke="#555" stroke-width="0.8"/>
<text x="314.5" y="287.0" text-anchor="end" class="t">3</text>
<line x1="319.0" y1="265.1" x2="321.0" y2="265.1" stroke="#555" stroke-width="0.8"/>
<text x="314.5" y="268.70000000000005" text-anchor="end" class="t">4</text>
<line x1="319.0" y1="246.8" x2="321.0" y2="246.8" stroke="#555" stroke-width="0.8"/>
<text x="314.5" y="250.4" text-anchor="end" class="t">5</text>
<line x1="319.0" y1="228.5" x2="321.0" y2="228.5" stroke="#555" stroke-width="0.8"/>
<text x="314.5" y="232.1" text-anchor="end" class="t">6</text>
<line x1="319.0" y1="338.3" x2="319.0" y2="336.3" stroke="#555" stroke-width="0.8"/>
<text x="319.0" y="350.6" text-anchor="middle" class="t">400</text>
<line x1="351.1" y1="338.3" x2="351.1" y2="336.3" stroke="#555" stroke-width="0.8"/>
<text x="351.1" y="350.6" text-anchor="middle" class="t">450</text>
<line x1="383.2" y1="338.3" x2="383.2" y2="336.3" stroke="#555" stroke-width="0.8"/>
<text x="383.2" y="350.6" text-anchor="middle" class="t">500</text>
<line x1="415.3" y1="338.3" x2="415.3" y2="336.3" stroke="#555" stroke-width="0.8"/>
<text x="415.3" y="350.6" text-anchor="middle" class="t">550</text>
<line x1="447.4" y1="338.3" x2="447.4" y2="336.3" stroke="#555" stroke-width="0.8"/>
<text x="447.4" y="350.6" text-anchor="middle" class="t">600</text>
<line x1="479.5" y1="338.3" x2="479.5" y2="336.3" stroke="#555" stroke-width="0.8"/>
<text x="479.5" y="350.6" text-anchor="middle" class="t">650</text>
<line x1="511.6" y1="338.3" x2="511.6" y2="336.3" stroke="#555" stroke-width="0.8"/>
<text x="511.6" y="350.6" text-anchor="middle" class="t">700</text>
<text x="416.3" y="362.90000000000003" text-anchor="middle" class="t">wavelength (nm)</text>
<text transform="translate(288.6,284.4) rotate(-90)" text-anchor="middle" class="t">radiance</text>
<text transform="translate(301.8,285.0) rotate(-90)" text-anchor="middle" class="t" style="font-size:11.5px">(photons cm<tspan class="sup" dy="-3.7">−2</tspan><tspan dy="3.7"> s</tspan><tspan class="sup" dy="-3.7">−1</tspan><tspan dy="3.7"> sr</tspan><tspan class="sup" dy="-3.7">−1</tspan><tspan dy="3.7"> × 10</tspan><tspan class="sup" dy="-3.7">11</tspan><tspan dy="3.7">)</tspan></text>
<path d="M319.00,338.27 L319.64,338.26 L320.28,338.25 L320.93,338.23 L321.57,338.21 L322.21,338.19 L322.85,338.15 L323.49,338.11 L324.14,338.05 L324.78,337.98 L325.42,337.88 L326.06,337.73 L326.70,337.54 L327.35,337.29 L327.99,336.98 L328.63,336.64 L329.27,336.26 L329.91,335.82 L330.56,335.32 L331.20,334.74 L331.84,334.06 L332.48,333.28 L333.12,332.42 L333.77,331.43 L334.41,330.29 L335.05,328.99 L335.69,327.51 L336.33,325.85 L336.98,323.98 L337.62,321.86 L338.26,319.39 L338.90,316.52 L339.54,313.26 L340.19,309.72 L340.83,305.33 L341.47,299.62 L342.11,293.20 L342.75,286.90 L343.40,280.44 L344.04,273.66 L344.68,266.63 L345.32,259.62 L345.96,252.59 L346.61,248.52 L347.25,245.96 L347.89,245.79 L348.53,247.31 L349.17,249.48 L349.82,252.84 L350.46,256.67 L351.10,260.96 L351.74,265.57 L352.38,270.28 L353.03,274.94 L353.67,279.83 L354.31,284.87 L354.95,289.44 L355.59,293.23 L356.24,296.49 L356.88,299.39 L357.52,302.07 L358.16,304.59 L358.80,306.98 L359.45,309.18 L360.09,311.17 L360.73,312.90 L361.37,314.41 L362.01,315.77 L362.66,317.03 L363.30,318.24 L363.94,319.40 L364.58,320.48 L365.22,321.47 L365.87,322.37 L366.51,323.17 L367.15,323.87 L367.79,324.47 L368.43,325.00 L369.08,325.46 L369.72,325.86 L370.36,326.21 L371.00,326.50 L371.64,326.73 L372.29,326.89 L372.93,327.00 L373.57,327.06 L374.21,327.08 L374.85,327.06 L375.50,326.96 L376.14,326.80 L376.78,326.56 L377.42,326.27 L378.06,325.93 L378.71,325.55 L379.35,325.13 L379.99,324.66 L380.63,324.17 L381.27,323.63 L381.92,323.06 L382.56,322.46 L383.20,321.83 L383.84,321.16 L384.48,320.45 L385.13,319.71 L385.77,318.93 L386.41,318.10 L387.05,317.23 L387.69,316.32 L388.34,315.35 L388.98,314.35 L389.62,313.32 L390.26,312.25 L390.90,311.16 L391.55,310.05 L392.19,308.93 L392.83,307.81 L393.47,306.70 L394.11,305.60 L394.76,304.44 L395.40,303.24 L396.04,302.01 L396.68,300.76 L397.32,299.52 L397.97,298.32 L398.61,297.18 L399.25,296.14 L399.89,295.22 L400.53,294.47 L401.18,293.89 L401.82,293.35 L402.46,292.84 L403.10,292.36 L403.74,291.91 L404.39,291.49 L405.03,291.10 L405.67,290.76 L406.31,290.44 L406.95,290.17 L407.60,289.94 L408.24,289.75 L408.88,289.60 L409.52,289.45 L410.16,289.32 L410.81,289.20 L411.45,289.10 L412.09,289.03 L412.73,289.00 L413.37,289.01 L414.02,289.16 L414.66,289.41 L415.30,289.78 L415.94,290.22 L416.58,290.74 L417.23,291.30 L417.87,291.90 L418.51,292.51 L419.15,293.12 L419.79,293.74 L420.44,294.46 L421.08,295.29 L421.72,296.19 L422.36,297.15 L423.00,298.14 L423.65,299.15 L424.29,300.14 L424.93,301.12 L425.57,302.05 L426.21,302.94 L426.86,303.82 L427.50,304.68 L428.14,305.53 L428.78,306.38 L429.42,307.22 L430.07,308.05 L430.71,308.85 L431.35,309.61 L431.99,310.22 L432.63,310.65 L433.28,310.93 L433.92,311.06 L434.56,310.98 L435.20,310.68 L435.84,310.14 L436.49,309.31 L437.13,308.21 L437.77,306.96 L438.41,305.57 L439.05,304.04 L439.70,302.51 L440.34,300.99 L440.98,299.46 L441.62,297.95 L442.26,296.42 L442.91,294.93 L443.55,293.54 L444.19,292.21 L444.83,290.96 L445.47,289.90 L446.12,288.98 L446.76,288.19 L447.40,287.57 L448.04,287.01 L448.68,286.58 L449.33,286.41 L449.97,286.38 L450.61,286.42 L451.25,286.61 L451.89,286.90 L452.54,287.26 L453.18,287.66 L453.82,288.06 L454.46,288.48 L455.10,288.96 L455.75,289.50 L456.39,290.07 L457.03,290.67 L457.67,291.33 L458.31,292.05 L458.96,292.82 L459.60,293.60 L460.24,294.39 L460.88,295.17 L461.52,295.94 L462.17,296.72 L462.81,297.50 L463.45,298.30 L464.09,299.09 L464.73,299.88 L465.38,300.66 L466.02,301.44 L466.66,302.23 L467.30,303.00 L467.94,303.77 L468.59,304.54 L469.23,305.29 L469.87,306.03 L470.51,306.76 L471.15,307.48 L471.80,308.18 L472.44,308.89 L473.08,309.59 L473.72,310.28 L474.36,310.97 L475.01,311.64 L475.65,312.30 L476.29,312.94 L476.93,313.57 L477.57,314.17 L478.22,314.75 L478.86,315.30 L479.50,315.83 L480.14,316.34 L480.78,316.82 L481.43,317.29 L482.07,317.75 L482.71,318.19 L483.35,318.62 L483.99,319.04 L484.64,319.45 L485.28,319.85 L485.92,320.25 L486.56,320.65 L487.20,321.03 L487.85,321.40 L488.49,321.76 L489.13,322.12 L489.77,322.47 L490.41,322.81 L491.06,323.15 L491.70,323.49 L492.34,323.83 L492.98,324.19 L493.62,324.53 L494.27,324.87 L494.91,325.22 L495.55,325.58 L496.19,325.93 L496.83,326.28 L497.48,326.62 L498.12,326.96 L498.76,327.28 L499.40,327.60 L500.04,327.91 L500.69,328.20 L501.33,328.48 L501.97,328.74 L502.61,328.99 L503.25,329.23 L503.90,329.45 L504.54,329.65 L505.18,329.85 L505.82,330.03 L506.46,330.21 L507.11,330.38 L507.75,330.54 L508.39,330.69 L509.03,330.84 L509.67,330.99 L510.32,331.13 L510.96,331.26 L511.60,331.39" fill="none" stroke="#111" stroke-width="1.25" stroke-linejoin="round"/>
<path d="M319.00,338.27 L319.64,338.26 L320.28,338.25 L320.93,338.24 L321.57,338.22 L322.21,338.20 L322.85,338.17 L323.49,338.13 L324.14,338.07 L324.78,338.00 L325.42,337.91 L326.06,337.78 L326.70,337.60 L327.35,337.37 L327.99,337.09 L328.63,336.78 L329.27,336.43 L329.91,336.03 L330.56,335.57 L331.20,335.03 L331.84,334.41 L332.48,333.70 L333.12,332.91 L333.77,332.00 L334.41,330.95 L335.05,329.76 L335.69,328.41 L336.33,326.88 L336.98,325.17 L337.62,323.23 L338.26,320.96 L338.90,318.32 L339.54,315.34 L340.19,312.09 L340.83,308.07 L341.47,302.82 L342.11,296.94 L342.75,291.16 L343.40,285.24 L344.04,279.03 L344.68,272.58 L345.32,266.15 L345.96,259.70 L346.61,255.96 L347.25,253.62 L347.89,253.46 L348.53,254.86 L349.17,256.85 L349.82,259.93 L350.46,263.44 L351.10,267.37 L351.74,271.59 L352.38,275.91 L353.03,280.18 L353.67,284.67 L354.31,289.28 L354.95,293.48 L355.59,296.95 L356.24,299.93 L356.88,302.60 L357.52,305.05 L358.16,307.35 L358.80,309.54 L359.45,311.56 L360.09,313.38 L360.73,314.96 L361.37,316.34 L362.01,317.59 L362.66,318.74 L363.30,319.84 L363.94,320.90 L364.58,321.88 L365.22,322.79 L365.87,323.61 L366.51,324.33 L367.15,324.97 L367.79,325.52 L368.43,325.99 L369.08,326.40 L369.72,326.76 L370.36,327.07 L371.00,327.33 L371.64,327.52 L372.29,327.66 L372.93,327.75 L373.57,327.79 L374.21,327.79 L374.85,327.75 L375.50,327.65 L376.14,327.48 L376.78,327.25 L377.42,326.96 L378.06,326.63 L378.71,326.26 L379.35,325.85 L379.99,325.41 L380.63,324.93 L381.27,324.42 L381.92,323.87 L382.56,323.30 L383.20,322.69 L383.84,322.05 L384.48,321.37 L385.13,320.66 L385.77,319.91 L386.41,319.13 L387.05,318.30 L387.69,317.42 L388.34,316.51 L388.98,315.55 L389.62,314.56 L390.26,313.55 L390.90,312.50 L391.55,311.45 L392.19,310.38 L392.83,309.31 L393.47,308.26 L394.11,307.21 L394.76,306.11 L395.40,304.96 L396.04,303.79 L396.68,302.60 L397.32,301.42 L397.97,300.28 L398.61,299.20 L399.25,298.20 L399.89,297.33 L400.53,296.61 L401.18,296.06 L401.82,295.54 L402.46,295.06 L403.10,294.60 L403.74,294.17 L404.39,293.77 L405.03,293.41 L405.67,293.07 L406.31,292.78 L406.95,292.52 L407.60,292.30 L408.24,292.12 L408.88,291.97 L409.52,291.83 L410.16,291.70 L410.81,291.59 L411.45,291.49 L412.09,291.43 L412.73,291.40 L413.37,291.41 L414.02,291.55 L414.66,291.79 L415.30,292.13 L415.94,292.56 L416.58,293.05 L417.23,293.59 L417.87,294.15 L418.51,294.73 L419.15,295.31 L419.79,295.90 L420.44,296.58 L421.08,297.37 L421.72,298.22 L422.36,299.13 L423.00,300.07 L423.65,301.02 L424.29,301.96 L424.93,302.88 L425.57,303.76 L426.21,304.59 L426.86,305.41 L427.50,306.21 L428.14,307.00 L428.78,307.77 L429.42,308.54 L430.07,309.29 L430.71,310.01 L431.35,310.67 L431.99,311.16 L432.63,311.43 L433.28,311.54 L433.92,311.49 L434.56,311.19 L435.20,310.65 L435.84,309.84 L436.49,308.69 L437.13,307.26 L437.77,305.64 L438.41,303.87 L439.05,301.95 L439.70,300.02 L440.34,298.11 L440.98,296.19 L441.62,294.30 L442.26,292.41 L442.91,290.56 L443.55,288.83 L444.19,287.19 L444.83,285.65 L445.47,284.33 L446.12,283.19 L446.76,282.20 L447.40,281.40 L448.04,280.69 L448.68,280.12 L449.33,279.87 L449.97,279.77 L450.61,279.76 L451.25,279.92 L451.89,280.22 L452.54,280.59 L453.18,281.01 L453.82,281.44 L454.46,281.89 L455.10,282.41 L455.75,283.00 L456.39,283.63 L457.03,284.29 L457.67,285.02 L458.31,285.83 L458.96,286.69 L459.60,287.57 L460.24,288.46 L460.88,289.34 L461.52,290.20 L462.17,291.07 L462.81,291.96 L463.45,292.86 L464.09,293.75 L464.73,294.65 L465.38,295.53 L466.02,296.42 L466.66,297.30 L467.30,298.18 L467.94,299.06 L468.59,299.93 L469.23,300.78 L469.87,301.63 L470.51,302.46 L471.15,303.28 L471.80,304.08 L472.44,304.88 L473.08,305.68 L473.72,306.47 L474.36,307.25 L475.01,308.02 L475.65,308.78 L476.29,309.51 L476.93,310.22 L477.57,310.91 L478.22,311.57 L478.86,312.20 L479.50,312.80 L480.14,313.38 L480.78,313.94 L481.43,314.47 L482.07,314.99 L482.71,315.50 L483.35,315.99 L483.99,316.47 L484.64,316.94 L485.28,317.40 L485.92,317.85 L486.56,318.30 L487.20,318.74 L487.85,319.16 L488.49,319.58 L489.13,319.98 L489.77,320.38 L490.41,320.77 L491.06,321.16 L491.70,321.55 L492.34,321.94 L492.98,322.34 L493.62,322.73 L494.27,323.12 L494.91,323.52 L495.55,323.93 L496.19,324.33 L496.83,324.73 L497.48,325.12 L498.12,325.50 L498.76,325.88 L499.40,326.24 L500.04,326.59 L500.69,326.92 L501.33,327.24 L501.97,327.54 L502.61,327.83 L503.25,328.10 L503.90,328.35 L504.54,328.58 L505.18,328.81 L505.82,329.02 L506.46,329.22 L507.11,329.41 L507.75,329.59 L508.39,329.77 L509.03,329.94 L509.67,330.10 L510.32,330.26 L510.96,330.42 L511.60,330.57" fill="none" stroke="#8a8a8a" stroke-width="1.2" stroke-linejoin="round"/>
<path d="M319.00,338.27 L319.64,338.27 L320.28,338.26 L320.93,338.24 L321.57,338.23 L322.21,338.20 L322.85,338.18 L323.49,338.14 L324.14,338.09 L324.78,338.02 L325.42,337.94 L326.06,337.82 L326.70,337.65 L327.35,337.44 L327.99,337.18 L328.63,336.89 L329.27,336.57 L329.91,336.19 L330.56,335.77 L331.20,335.27 L331.84,334.70 L332.48,334.04 L333.12,333.30 L333.77,332.46 L334.41,331.49 L335.05,330.38 L335.69,329.13 L336.33,327.72 L336.98,326.13 L337.62,324.33 L338.26,322.23 L338.90,319.79 L339.54,317.02 L340.19,314.01 L340.83,310.28 L341.47,305.42 L342.11,299.97 L342.75,294.61 L343.40,289.13 L344.04,283.37 L344.68,277.39 L345.32,271.43 L345.96,265.46 L346.61,262.00 L347.25,259.82 L347.89,259.67 L348.53,260.97 L349.17,262.81 L349.82,265.67 L350.46,268.92 L351.10,272.56 L351.74,276.47 L352.38,280.48 L353.03,284.44 L353.67,288.59 L354.31,292.87 L354.95,296.76 L355.59,299.97 L356.24,302.73 L356.88,305.20 L357.52,307.47 L358.16,309.61 L358.80,311.63 L359.45,313.50 L360.09,315.18 L360.73,316.65 L361.37,317.93 L362.01,319.08 L362.66,320.14 L363.30,321.16 L363.94,322.14 L364.58,323.05 L365.22,323.88 L365.87,324.64 L366.51,325.31 L367.15,325.90 L367.79,326.40 L368.43,326.83 L369.08,327.21 L369.72,327.54 L370.36,327.83 L371.00,328.06 L371.64,328.23 L372.29,328.35 L372.93,328.42 L373.57,328.45 L374.21,328.45 L374.85,328.41 L375.50,328.30 L376.14,328.14 L376.78,327.91 L377.42,327.64 L378.06,327.32 L378.71,326.97 L379.35,326.58 L379.99,326.16 L380.63,325.70 L381.27,325.22 L381.92,324.70 L382.56,324.15 L383.20,323.58 L383.84,322.97 L384.48,322.33 L385.13,321.66 L385.77,320.95 L386.41,320.20 L387.05,319.42 L387.69,318.59 L388.34,317.72 L388.98,316.82 L389.62,315.88 L390.26,314.92 L390.90,313.94 L391.55,312.94 L392.19,311.93 L392.83,310.92 L393.47,309.92 L394.11,308.93 L394.76,307.89 L395.40,306.81 L396.04,305.69 L396.68,304.57 L397.32,303.46 L397.97,302.38 L398.61,301.35 L399.25,300.41 L399.89,299.59 L400.53,298.91 L401.18,298.38 L401.82,297.90 L402.46,297.44 L403.10,297.01 L403.74,296.60 L404.39,296.22 L405.03,295.88 L405.67,295.56 L406.31,295.28 L406.95,295.04 L407.60,294.83 L408.24,294.66 L408.88,294.52 L409.52,294.39 L410.16,294.27 L410.81,294.16 L411.45,294.07 L412.09,294.01 L412.73,293.98 L413.37,293.99 L414.02,294.12 L414.66,294.34 L415.30,294.67 L415.94,295.07 L416.58,295.54 L417.23,296.04 L417.87,296.58 L418.51,297.12 L419.15,297.67 L419.79,298.22 L420.44,298.87 L421.08,299.61 L421.72,300.41 L422.36,301.27 L423.00,302.15 L423.65,303.05 L424.29,303.93 L424.93,304.79 L425.57,305.61 L426.21,306.39 L426.86,307.14 L427.50,307.88 L428.14,308.61 L428.78,309.32 L429.42,310.02 L430.07,310.70 L430.71,311.35 L431.35,311.92 L431.99,312.30 L432.63,312.45 L433.28,312.43 L433.92,312.22 L434.56,311.77 L435.20,311.05 L435.84,310.04 L436.49,308.67 L437.13,306.99 L437.77,305.12 L438.41,303.08 L439.05,300.88 L439.70,298.68 L440.34,296.49 L440.98,294.31 L441.62,292.15 L442.26,290.00 L442.91,287.90 L443.55,285.95 L444.19,284.09 L444.83,282.35 L445.47,280.85 L446.12,279.54 L446.76,278.41 L447.40,277.49 L448.04,276.67 L448.68,276.00 L449.33,275.69 L449.97,275.55 L450.61,275.50 L451.25,275.64 L451.89,275.93 L452.54,276.31 L453.18,276.74 L453.82,277.18 L454.46,277.64 L455.10,278.19 L455.75,278.81 L456.39,279.47 L457.03,280.17 L457.67,280.95 L458.31,281.82 L458.96,282.73 L459.60,283.67 L460.24,284.63 L460.88,285.56 L461.52,286.49 L462.17,287.43 L462.81,288.38 L463.45,289.34 L464.09,290.30 L464.73,291.26 L465.38,292.21 L466.02,293.17 L466.66,294.12 L467.30,295.07 L467.94,296.01 L468.59,296.94 L469.23,297.87 L469.87,298.78 L470.51,299.67 L471.15,300.56 L471.80,301.42 L472.44,302.29 L473.08,303.15 L473.72,304.01 L474.36,304.85 L475.01,305.68 L475.65,306.50 L476.29,307.29 L476.93,308.06 L477.57,308.80 L478.22,309.51 L478.86,310.20 L479.50,310.85 L480.14,311.47 L480.78,312.08 L481.43,312.65 L482.07,313.21 L482.71,313.76 L483.35,314.29 L483.99,314.81 L484.64,315.31 L485.28,315.81 L485.92,316.31 L486.56,316.79 L487.20,317.26 L487.85,317.72 L488.49,318.17 L489.13,318.61 L489.77,319.04 L490.41,319.46 L491.06,319.88 L491.70,320.30 L492.34,320.72 L492.98,321.15 L493.62,321.57 L494.27,322.00 L494.91,322.43 L495.55,322.87 L496.19,323.30 L496.83,323.73 L497.48,324.16 L498.12,324.57 L498.76,324.98 L499.40,325.37 L500.04,325.74 L500.69,326.11 L501.33,326.45 L501.97,326.78 L502.61,327.09 L503.25,327.38 L503.90,327.65 L504.54,327.90 L505.18,328.14 L505.82,328.37 L506.46,328.59 L507.11,328.79 L507.75,328.99 L508.39,329.18 L509.03,329.37 L509.67,329.54 L510.32,329.71 L510.96,329.88 L511.60,330.05" fill="none" stroke="#111" stroke-width="1.25" stroke-linejoin="round"/>
<path d="M319.00,338.27 L319.64,338.27 L320.28,338.26 L320.93,338.25 L321.57,338.23 L322.21,338.21 L322.85,338.18 L323.49,338.15 L324.14,338.10 L324.78,338.04 L325.42,337.96 L326.06,337.85 L326.70,337.69 L327.35,337.49 L327.99,337.24 L328.63,336.97 L329.27,336.66 L329.91,336.31 L330.56,335.91 L331.20,335.44 L331.84,334.90 L332.48,334.28 L333.12,333.58 L333.77,332.79 L334.41,331.87 L335.05,330.83 L335.69,329.64 L336.33,328.31 L336.98,326.81 L337.62,325.11 L338.26,323.13 L338.90,320.82 L339.54,318.21 L340.19,315.37 L340.83,311.84 L341.47,307.26 L342.11,302.11 L342.75,297.05 L343.40,291.87 L344.04,286.43 L344.68,280.79 L345.32,275.16 L345.96,269.52 L346.61,266.26 L347.25,264.20 L347.89,264.06 L348.53,265.29 L349.17,267.03 L349.82,269.72 L350.46,272.79 L351.10,276.23 L351.74,279.93 L352.38,283.71 L353.03,287.44 L353.67,291.37 L354.31,295.41 L354.95,299.08 L355.59,302.11 L356.24,304.72 L356.88,307.05 L357.52,309.19 L358.16,311.21 L358.80,313.13 L359.45,314.89 L360.09,316.48 L360.73,317.87 L361.37,319.07 L362.01,320.16 L362.66,321.17 L363.30,322.13 L363.94,323.05 L364.58,323.91 L365.22,324.70 L365.87,325.42 L366.51,326.05 L367.15,326.60 L367.79,327.08 L368.43,327.49 L369.08,327.85 L369.72,328.16 L370.36,328.43 L371.00,328.65 L371.64,328.82 L372.29,328.94 L372.93,329.01 L373.57,329.04 L374.21,329.04 L374.85,329.00 L375.50,328.90 L376.14,328.75 L376.78,328.54 L377.42,328.29 L378.06,327.99 L378.71,327.66 L379.35,327.30 L379.99,326.90 L380.63,326.47 L381.27,326.02 L381.92,325.53 L382.56,325.02 L383.20,324.48 L383.84,323.91 L384.48,323.31 L385.13,322.68 L385.77,322.02 L386.41,321.32 L387.05,320.59 L387.69,319.81 L388.34,319.00 L388.98,318.15 L389.62,317.27 L390.26,316.37 L390.90,315.45 L391.55,314.51 L392.19,313.56 L392.83,312.62 L393.47,311.68 L394.11,310.75 L394.76,309.78 L395.40,308.76 L396.04,307.72 L396.68,306.67 L397.32,305.62 L397.97,304.61 L398.61,303.65 L399.25,302.77 L399.89,302.00 L400.53,301.36 L401.18,300.87 L401.82,300.41 L402.46,299.98 L403.10,299.58 L403.74,299.19 L404.39,298.84 L405.03,298.52 L405.67,298.22 L406.31,297.96 L406.95,297.73 L407.60,297.53 L408.24,297.37 L408.88,297.24 L409.52,297.12 L410.16,297.00 L410.81,296.90 L411.45,296.82 L412.09,296.76 L412.73,296.73 L413.37,296.75 L414.02,296.87 L414.66,297.08 L415.30,297.38 L415.94,297.76 L416.58,298.19 L417.23,298.66 L417.87,299.16 L418.51,299.68 L419.15,300.19 L419.79,300.70 L420.44,301.31 L421.08,301.99 L421.72,302.75 L422.36,303.55 L423.00,304.37 L423.65,305.20 L424.29,306.02 L424.93,306.81 L425.57,307.56 L426.21,308.27 L426.86,308.95 L427.50,309.62 L428.14,310.26 L428.78,310.88 L429.42,311.50 L430.07,312.09 L430.71,312.63 L431.35,313.07 L431.99,313.29 L432.63,313.24 L433.28,312.99 L433.92,312.54 L434.56,311.80 L435.20,310.76 L435.84,309.38 L436.49,307.59 L437.13,305.44 L437.77,303.08 L438.41,300.51 L439.05,297.77 L439.70,295.03 L440.34,292.31 L440.98,289.59 L441.62,286.92 L442.26,284.27 L442.91,281.67 L443.55,279.26 L444.19,276.97 L444.83,274.83 L445.47,272.98 L446.12,271.36 L446.76,269.95 L447.40,268.80 L448.04,267.76 L448.68,266.91 L449.33,266.48 L449.97,266.25 L450.61,266.14 L451.25,266.26 L451.89,266.55 L452.54,266.95 L453.18,267.40 L453.82,267.88 L454.46,268.39 L455.10,269.00 L455.75,269.69 L456.39,270.43 L457.03,271.22 L457.67,272.11 L458.31,273.09 L458.96,274.14 L459.60,275.22 L460.24,276.31 L460.88,277.38 L461.52,278.44 L462.17,279.52 L462.81,280.61 L463.45,281.71 L464.09,282.82 L464.73,283.93 L465.38,285.02 L466.02,286.12 L466.66,287.22 L467.30,288.31 L467.94,289.40 L468.59,290.48 L469.23,291.55 L469.87,292.60 L470.51,293.64 L471.15,294.66 L471.80,295.67 L472.44,296.67 L473.08,297.67 L473.72,298.67 L474.36,299.65 L475.01,300.61 L475.65,301.56 L476.29,302.47 L476.93,303.37 L477.57,304.23 L478.22,305.06 L478.86,305.85 L479.50,306.61 L480.14,307.33 L480.78,308.03 L481.43,308.70 L482.07,309.35 L482.71,309.98 L483.35,310.60 L483.99,311.20 L484.64,311.79 L485.28,312.37 L485.92,312.94 L486.56,313.50 L487.20,314.05 L487.85,314.58 L488.49,315.10 L489.13,315.61 L489.77,316.11 L490.41,316.60 L491.06,317.09 L491.70,317.57 L492.34,318.06 L492.98,318.56 L493.62,319.04 L494.27,319.54 L494.91,320.04 L495.55,320.55 L496.19,321.05 L496.83,321.55 L497.48,322.05 L498.12,322.53 L498.76,323.00 L499.40,323.45 L500.04,323.89 L500.69,324.31 L501.33,324.71 L501.97,325.09 L502.61,325.45 L503.25,325.79 L503.90,326.10 L504.54,326.40 L505.18,326.67 L505.82,326.94 L506.46,327.19 L507.11,327.43 L507.75,327.66 L508.39,327.88 L509.03,328.09 L509.67,328.30 L510.32,328.50 L510.96,328.69 L511.60,328.88" fill="none" stroke="#111" stroke-width="1.25" stroke-linejoin="round"/>
<path d="M319.00,338.28 L319.64,338.27 L320.28,338.26 L320.93,338.25 L321.57,338.23 L322.21,338.22 L322.85,338.19 L323.49,338.16 L324.14,338.11 L324.78,338.05 L325.42,337.98 L326.06,337.87 L326.70,337.72 L327.35,337.53 L327.99,337.30 L328.63,337.05 L329.27,336.75 L329.91,336.42 L330.56,336.04 L331.20,335.60 L331.84,335.09 L332.48,334.50 L333.12,333.85 L333.77,333.10 L334.41,332.23 L335.05,331.25 L335.69,330.13 L336.33,328.87 L336.98,327.46 L337.62,325.86 L338.26,323.99 L338.90,321.81 L339.54,319.35 L340.19,316.67 L340.83,313.34 L341.47,309.02 L342.11,304.16 L342.75,299.39 L343.40,294.50 L344.04,289.37 L344.68,284.05 L345.32,278.74 L345.96,273.42 L346.61,270.34 L347.25,268.40 L347.89,268.27 L348.53,269.43 L349.17,271.07 L349.82,273.61 L350.46,276.51 L351.10,279.75 L351.74,283.24 L352.38,286.80 L353.03,290.33 L353.67,294.03 L354.31,297.84 L354.95,301.30 L355.59,304.17 L356.24,306.63 L356.88,308.83 L357.52,310.85 L358.16,312.75 L358.80,314.56 L359.45,316.23 L360.09,317.73 L360.73,319.03 L361.37,320.17 L362.01,321.20 L362.66,322.15 L363.30,323.06 L363.94,323.93 L364.58,324.74 L365.22,325.49 L365.87,326.17 L366.51,326.77 L367.15,327.29 L367.79,327.74 L368.43,328.13 L369.08,328.47 L369.72,328.77 L370.36,329.03 L371.00,329.23 L371.64,329.40 L372.29,329.51 L372.93,329.58 L373.57,329.61 L374.21,329.61 L374.85,329.58 L375.50,329.50 L376.14,329.36 L376.78,329.16 L377.42,328.93 L378.06,328.65 L378.71,328.35 L379.35,328.01 L379.99,327.64 L380.63,327.24 L381.27,326.82 L381.92,326.37 L382.56,325.89 L383.20,325.39 L383.84,324.85 L384.48,324.30 L385.13,323.71 L385.77,323.09 L386.41,322.44 L387.05,321.75 L387.69,321.03 L388.34,320.27 L388.98,319.48 L389.62,318.66 L390.26,317.82 L390.90,316.96 L391.55,316.08 L392.19,315.20 L392.83,314.32 L393.47,313.44 L394.11,312.57 L394.76,311.67 L395.40,310.72 L396.04,309.74 L396.68,308.76 L397.32,307.79 L397.97,306.84 L398.61,305.94 L399.25,305.12 L399.89,304.40 L400.53,303.81 L401.18,303.35 L401.82,302.92 L402.46,302.52 L403.10,302.14 L403.74,301.79 L404.39,301.46 L405.03,301.15 L405.67,300.88 L406.31,300.63 L406.95,300.42 L407.60,300.24 L408.24,300.09 L408.88,299.96 L409.52,299.85 L410.16,299.74 L410.81,299.65 L411.45,299.57 L412.09,299.52 L412.73,299.49 L413.37,299.50 L414.02,299.62 L414.66,299.81 L415.30,300.09 L415.94,300.44 L416.58,300.84 L417.23,301.28 L417.87,301.75 L418.51,302.23 L419.15,302.70 L419.79,303.18 L420.44,303.74 L421.08,304.38 L421.72,305.08 L422.36,305.81 L423.00,306.58 L423.65,307.34 L424.29,308.09 L424.93,308.81 L425.57,309.49 L426.21,310.13 L426.86,310.73 L427.50,311.31 L428.14,311.87 L428.78,312.39 L429.42,312.90 L430.07,313.38 L430.71,313.80 L431.35,314.10 L431.99,314.12 L432.63,313.82 L433.28,313.28 L433.92,312.51 L434.56,311.41 L435.20,309.95 L435.84,308.09 L436.49,305.75 L437.13,302.98 L437.77,299.96 L438.41,296.70 L439.05,293.24 L439.70,289.79 L440.34,286.35 L440.98,282.93 L441.62,279.58 L442.26,276.24 L442.91,272.99 L443.55,269.97 L444.19,267.10 L444.83,264.43 L445.47,262.12 L446.12,260.09 L446.76,258.31 L447.40,256.84 L448.04,255.51 L448.68,254.42 L449.33,253.84 L449.97,253.50 L450.61,253.31 L451.25,253.39 L451.89,253.69 L452.54,254.12 L453.18,254.63 L453.82,255.16 L454.46,255.72 L455.10,256.42 L455.75,257.21 L456.39,258.07 L457.03,258.98 L457.67,260.02 L458.31,261.16 L458.96,262.39 L459.60,263.65 L460.24,264.93 L460.88,266.20 L461.52,267.44 L462.17,268.71 L462.81,270.00 L463.45,271.30 L464.09,272.60 L464.73,273.91 L465.38,275.20 L466.02,276.50 L466.66,277.80 L467.30,279.09 L467.94,280.38 L468.59,281.66 L469.23,282.92 L469.87,284.17 L470.51,285.41 L471.15,286.62 L471.80,287.81 L472.44,289.00 L473.08,290.19 L473.72,291.37 L474.36,292.53 L475.01,293.68 L475.65,294.80 L476.29,295.90 L476.93,296.96 L477.57,297.98 L478.22,298.97 L478.86,299.91 L479.50,300.81 L480.14,301.67 L480.78,302.50 L481.43,303.30 L482.07,304.07 L482.71,304.82 L483.35,305.55 L483.99,306.26 L484.64,306.96 L485.28,307.65 L485.92,308.33 L486.56,309.00 L487.20,309.65 L487.85,310.28 L488.49,310.90 L489.13,311.50 L489.77,312.09 L490.41,312.68 L491.06,313.26 L491.70,313.84 L492.34,314.41 L492.98,315.00 L493.62,315.58 L494.27,316.17 L494.91,316.77 L495.55,317.37 L496.19,317.97 L496.83,318.57 L497.48,319.15 L498.12,319.73 L498.76,320.29 L499.40,320.83 L500.04,321.35 L500.69,321.85 L501.33,322.33 L501.97,322.78 L502.61,323.21 L503.25,323.61 L503.90,323.98 L504.54,324.33 L505.18,324.66 L505.82,324.97 L506.46,325.27 L507.11,325.55 L507.75,325.82 L508.39,326.09 L509.03,326.34 L509.67,326.58 L510.32,326.82 L510.96,327.05 L511.60,327.27" fill="none" stroke="#111" stroke-width="1.25" stroke-linejoin="round"/>
<path d="M319.00,338.28 L319.64,338.27 L320.28,338.26 L320.93,338.25 L321.57,338.24 L322.21,338.22 L322.85,338.20 L323.49,338.17 L324.14,338.13 L324.78,338.07 L325.42,338.00 L326.06,337.90 L326.70,337.76 L327.35,337.59 L327.99,337.37 L328.63,337.13 L329.27,336.86 L329.91,336.55 L330.56,336.20 L331.20,335.79 L331.84,335.31 L332.48,334.76 L333.12,334.15 L333.77,333.45 L334.41,332.65 L335.05,331.73 L335.69,330.69 L336.33,329.52 L336.98,328.20 L337.62,326.70 L338.26,324.96 L338.90,322.93 L339.54,320.63 L340.19,318.14 L340.83,315.04 L341.47,311.01 L342.11,306.48 L342.75,302.04 L343.40,297.48 L344.04,292.70 L344.68,287.74 L345.32,282.79 L345.96,277.83 L346.61,274.96 L347.25,273.15 L347.89,273.04 L348.53,274.11 L349.17,275.64 L349.82,278.01 L350.46,280.72 L351.10,283.74 L351.74,286.99 L352.38,290.32 L353.03,293.61 L353.67,297.07 L354.31,300.62 L354.95,303.85 L355.59,306.52 L356.24,308.82 L356.88,310.88 L357.52,312.76 L358.16,314.54 L358.80,316.23 L359.45,317.79 L360.09,319.20 L360.73,320.42 L361.37,321.49 L362.01,322.46 L362.66,323.35 L363.30,324.21 L363.94,325.03 L364.58,325.80 L365.22,326.50 L365.87,327.14 L366.51,327.71 L367.15,328.21 L367.79,328.65 L368.43,329.03 L369.08,329.36 L369.72,329.65 L370.36,329.91 L371.00,330.12 L371.64,330.29 L372.29,330.42 L372.93,330.51 L373.57,330.57 L374.21,330.60 L374.85,330.60 L375.50,330.55 L376.14,330.45 L376.78,330.30 L377.42,330.11 L378.06,329.89 L378.71,329.64 L379.35,329.36 L379.99,329.06 L380.63,328.73 L381.27,328.38 L381.92,328.00 L382.56,327.60 L383.20,327.17 L383.84,326.73 L384.48,326.26 L385.13,325.76 L385.77,325.24 L386.41,324.69 L387.05,324.11 L387.69,323.49 L388.34,322.85 L388.98,322.18 L389.62,321.48 L390.26,320.77 L390.90,320.04 L391.55,319.29 L392.19,318.54 L392.83,317.79 L393.47,317.05 L394.11,316.31 L394.76,315.54 L395.40,314.73 L396.04,313.90 L396.68,313.06 L397.32,312.23 L397.97,311.43 L398.61,310.66 L399.25,309.96 L399.89,309.35 L400.53,308.84 L401.18,308.45 L401.82,308.09 L402.46,307.75 L403.10,307.43 L403.74,307.13 L404.39,306.85 L405.03,306.59 L405.67,306.35 L406.31,306.15 L406.95,305.96 L407.60,305.81 L408.24,305.68 L408.88,305.58 L409.52,305.48 L410.16,305.39 L410.81,305.31 L411.45,305.24 L412.09,305.20 L412.73,305.18 L413.37,305.19 L414.02,305.29 L414.66,305.44 L415.30,305.68 L415.94,305.98 L416.58,306.32 L417.23,306.70 L417.87,307.09 L418.51,307.50 L419.15,307.90 L419.79,308.30 L420.44,308.78 L421.08,309.31 L421.72,309.90 L422.36,310.52 L423.00,311.16 L423.65,311.80 L424.29,312.42 L424.93,313.01 L425.57,313.56 L426.21,314.06 L426.86,314.53 L427.50,314.97 L428.14,315.38 L428.78,315.75 L429.42,316.10 L430.07,316.41 L430.71,316.65 L431.35,316.73 L431.99,316.49 L432.63,315.87 L433.28,314.99 L433.92,313.84 L434.56,312.31 L435.20,310.37 L435.84,307.97 L436.49,305.02 L437.13,301.58 L437.77,297.85 L438.41,293.85 L439.05,289.63 L439.70,285.40 L440.34,281.21 L440.98,277.04 L441.62,272.95 L442.26,268.90 L442.91,264.96 L443.55,261.29 L444.19,257.81 L444.83,254.58 L445.47,251.77 L446.12,249.29 L446.76,247.12 L447.40,245.32 L448.04,243.69 L448.68,242.33 L449.33,241.57 L449.97,241.11 L450.61,240.82 L451.25,240.86 L451.89,241.15 L452.54,241.60 L453.18,242.14 L453.82,242.71 L454.46,243.33 L455.10,244.10 L455.75,244.98 L456.39,245.95 L457.03,246.98 L457.67,248.15 L458.31,249.46 L458.96,250.85 L459.60,252.30 L460.24,253.77 L460.88,255.21 L461.52,256.63 L462.17,258.09 L462.81,259.56 L463.45,261.06 L464.09,262.55 L464.73,264.05 L465.38,265.54 L466.02,267.04 L466.66,268.53 L467.30,270.02 L467.94,271.50 L468.59,272.98 L469.23,274.44 L469.87,275.88 L470.51,277.30 L471.15,278.70 L471.80,280.08 L472.44,281.46 L473.08,282.83 L473.72,284.19 L474.36,285.54 L475.01,286.87 L475.65,288.17 L476.29,289.43 L476.93,290.66 L477.57,291.84 L478.22,292.98 L478.86,294.08 L479.50,295.12 L480.14,296.11 L480.78,297.07 L481.43,297.99 L482.07,298.89 L482.71,299.75 L483.35,300.60 L483.99,301.43 L484.64,302.24 L485.28,303.03 L485.92,303.82 L486.56,304.59 L487.20,305.35 L487.85,306.08 L488.49,306.79 L489.13,307.49 L489.77,308.17 L490.41,308.85 L491.06,309.52 L491.70,310.19 L492.34,310.85 L492.98,311.53 L493.62,312.20 L494.27,312.89 L494.91,313.58 L495.55,314.27 L496.19,314.97 L496.83,315.66 L497.48,316.34 L498.12,317.00 L498.76,317.65 L499.40,318.28 L500.04,318.88 L500.69,319.46 L501.33,320.01 L501.97,320.54 L502.61,321.03 L503.25,321.49 L503.90,321.93 L504.54,322.33 L505.18,322.71 L505.82,323.07 L506.46,323.41 L507.11,323.74 L507.75,324.06 L508.39,324.36 L509.03,324.65 L509.67,324.93 L510.32,325.21 L510.96,325.47 L511.60,325.73" fill="none" stroke="#c8203a" stroke-width="2.1" stroke-linejoin="round"/>
</svg></body></html>
